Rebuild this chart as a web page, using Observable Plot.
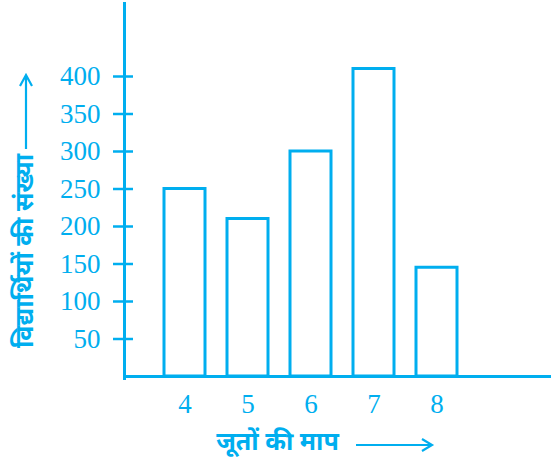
<!DOCTYPE html>
<html>
<head>
<meta charset="utf-8">
<script src="https://cdn.jsdelivr.net/npm/d3@7"></script>
<script src="https://cdn.jsdelivr.net/npm/@observablehq/plot@0.6"></script>
<style>
  html, body { margin: 0; padding: 0; background: white; }
</style>
</head>
<body>
<div id="chart"></div>
<script>
const sizes = [4, 5, 6, 7, 8];
const students = [250, 210, 300, 410, 145];
const yTicks = [50, 100, 150, 200, 250, 300, 350, 400];
const xTitle = "जूतों की माप";
const yTitle = "विद्यार्थियों की संख्या";

const C = "#00AEEF";
const data = sizes.map((s, i) => ({size: s, count: students[i]}));

const chart = Plot.plot({
  width: 551,
  height: 462,
  marginLeft: 124,
  marginRight: 0,
  marginTop: 3,
  marginBottom: 84,
  style: {fontFamily: "'Liberation Serif', 'Times New Roman', serif", fontSize: "27px", color: C, background: "white", overflow: "visible"},
  x: {type: "band", domain: sizes, range: [140, 480], padding: 0.35, label: null},
  y: {domain: [0, 500], range: [376, 1], label: null},
  marks: [
    Plot.barY(data, {x: "size", y: "count", fill: "white", stroke: C, strokeWidth: 3}),
    Plot.ruleY([0], {stroke: C, strokeWidth: 3}),
    Plot.frame({anchor: "left", stroke: C, strokeWidth: 3}),
    Plot.axisY({ticks: yTicks, tickSize: 20, dx: 9, text: null, stroke: C, strokeWidth: 2.5, label: null}),
    Plot.axisY({ticks: yTicks, tickSize: 0, tickPadding: 24, label: null}),
    Plot.axisX({tickSize: 0, tickPadding: 15, label: null}),
    Plot.text([yTitle], {frameAnchor: "left", textAnchor: "middle", lineAnchor: "middle", rotate: -90, dx: -100, dy: 60, fontFamily: "'Noto Sans', sans-serif", fontSize: 25, fontWeight: "bold", fill: C}),
    Plot.text([xTitle], {frameAnchor: "bottom-left", textAnchor: "middle", lineAnchor: "middle", dx: 153, dy: 63, fontFamily: "'Noto Sans', sans-serif", fontSize: 25, fontWeight: "bold", fill: C})
  ]
});

document.getElementById("chart").appendChild(chart);

// decorative arrows next to axis titles
const svg = d3.select(chart);
const g = svg.append("g").attr("fill", "none").attr("stroke", C).attr("stroke-width", 2.2);
g.append("path").attr("d", "M356,445 H431 M422,439 L432,445 L422,451");
g.append("path").attr("d", "M26,149 V76 M20,86 L26,75 L32,86");
</script>
</body>
</html>
